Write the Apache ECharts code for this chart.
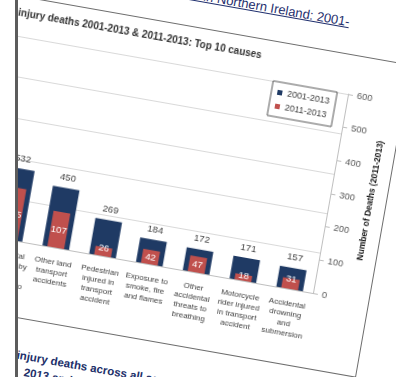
<!DOCTYPE html>
<html>
<head>
<meta charset="utf-8">
<script src="https://cdn.jsdelivr.net/npm/echarts/dist/echarts.min.js"></script>
<style>
  html, body { margin: 0; padding: 0; background: #fff; }
  body { width: 396px; height: 377px; position: relative; overflow: hidden; font-family: "Liberation Sans", Arial, sans-serif; }
  #clip { position: absolute; left: 18px; top: 0; width: 378px; height: 377px; overflow: hidden; }
  #page { position: absolute; left: 295px; top: 293px; width: 0; height: 0; transform: rotate(10deg); transform-origin: 0 0; }
  #heading { position: absolute; left: -511px; top: -281px; width: 500px; text-align: right; white-space: nowrap;
             font-size: 13px; line-height: 16px; color: #1f2f6e; text-decoration: underline; }
  #chart { position: absolute; left: -485px; top: -242px; width: 542px; height: 318px; }
  #frame { position: absolute; left: -485px; top: -242px; width: 542px; height: 318px; box-sizing: border-box; border: 1px solid #6e6e6e; }
  .para { position: absolute; white-space: nowrap; font-size: 11.5px; line-height: 16px; font-weight: bold; color: #22306a; }
  #edge { position: absolute; left: 15px; top: 0; width: 3px; height: 377px; background: #5c5c5c; }
</style>
</head>
<body>
<div id="clip">
  <div id="page">
    <div id="heading">Injury deaths in Northern Ireland: 2001-</div>
    <div id="chart"></div>
    <div id="frame"></div>
    <div class="para" style="left:-281px; top:104px;">injury deaths across all ages in Northern Ireland,</div>
    <div class="para" style="left:-271px; top:120px;">2013 and 2011-2013</div>
  </div>
</div>
<div id="edge"></div>
<script>
// Top 10 causes of injury death, Northern Ireland
const categories = [
  'Intentional\nself-harm by\nhanging,\nstrangulation',
  'Accidental\nfalls',
  'Car occupant\ninjured in\ntransport\naccident',
  'Accidental\npoisoning by\nand\nexposure to',
  'Other land\ntransport\naccidents',
  'Pedestrian\ninjured in\ntransport\naccident',
  'Exposure to\nsmoke, fire\nand flames',
  'Other\naccidental\nthreats to\nbreathing',
  'Motorcycle\nrider injured\nin transport\naccident',
  'Accidental\ndrowning\nand\nsubmersion'
];
const deaths2001to2013 = [1420, 1210, 640, 532, 450, 269, 184, 172, 171, 157];
const deaths2011to2013 = [402, 315, 118, 155, 107, 26, 42, 47, 18, 31];
const seriesNames = ['2001-2013', '2011-2013'];
const leftTicks = { min: 0, max: 1500, interval: 300 };
const rightTicks = { min: 0, max: 600, interval: 100 };

const FONT = '"Liberation Sans", Arial, sans-serif';
const chart = echarts.init(document.getElementById('chart'), null, { renderer: 'canvas' });

// short red bars carry their value label straddling the bar top
const redData = deaths2011to2013.map(v => v < 35
  ? { value: v, label: { position: 'top', distance: -6 } }
  : v);

chart.setOption({
  animation: false,
  textStyle: { fontFamily: FONT },
  title: {
    text: 'injury deaths 2001-2013 & 2011-2013: Top 10 causes',
    left: 146, top: 12, padding: 0,
    textStyle: { fontSize: 10, fontWeight: 'bold', color: '#333333', fontFamily: FONT }
  },
  legend: {
    data: seriesNames,
    orient: 'vertical',
    left: 409, top: 40,
    padding: [6, 6, 6, 6],
    itemGap: 5, itemWidth: 5, itemHeight: 5,
    icon: 'rect',
    borderColor: '#595959', borderWidth: 1,
    backgroundColor: '#ffffff',
    textStyle: { fontSize: 9, color: '#404040', fontFamily: FONT }
  },
  grid: { left: 10, right: 57, top: 40, bottom: 76 },
  xAxis: [
    {
      type: 'category', data: categories,
      axisLine: { lineStyle: { color: '#bfbfbf' } },
      axisTick: { show: false },
      axisLabel: { interval: 0, fontSize: 8, lineHeight: 10, color: '#404040', margin: 10, fontFamily: FONT }
    },
    { type: 'category', data: categories, show: false }
  ],
  yAxis: [
    {
      type: 'value', position: 'left',
      min: leftTicks.min, max: leftTicks.max, interval: leftTicks.interval,
      axisLine: { show: false }, axisTick: { show: false }, axisLabel: { show: false },
      splitLine: { lineStyle: { color: '#d9d9d9' } }
    },
    {
      type: 'value', position: 'right',
      min: rightTicks.min, max: rightTicks.max, interval: rightTicks.interval,
      name: 'Number of Deaths (2011-2013)',
      nameLocation: 'middle', nameRotate: 90, nameGap: 31,
      nameTextStyle: { fontSize: 8.5, fontWeight: 'bold', color: '#1a1a1a', fontFamily: FONT },
      axisLine: { show: true, lineStyle: { color: '#bfbfbf' } },
      axisTick: { show: true, length: 5, lineStyle: { color: '#bfbfbf' } },
      axisLabel: { fontSize: 9.5, color: '#595959', margin: 9, fontFamily: FONT },
      splitLine: { show: false }
    }
  ],
  series: [
    {
      name: seriesNames[0], type: 'bar',
      xAxisIndex: 0, yAxisIndex: 0,
      data: deaths2001to2013,
      barWidth: 27,
      itemStyle: { color: '#1f3a64' },
      label: { show: true, position: 'top', distance: 5, fontSize: 9.5, color: '#404040', fontFamily: FONT }
    },
    {
      name: seriesNames[1], type: 'bar',
      xAxisIndex: 1, yAxisIndex: 1,
      data: redData,
      barWidth: 17,
      itemStyle: { color: '#c0504d' },
      label: { show: true, position: 'inside', fontSize: 9.5, color: '#ffffff', fontFamily: FONT }
    }
  ]
});
</script>
</body>
</html>
